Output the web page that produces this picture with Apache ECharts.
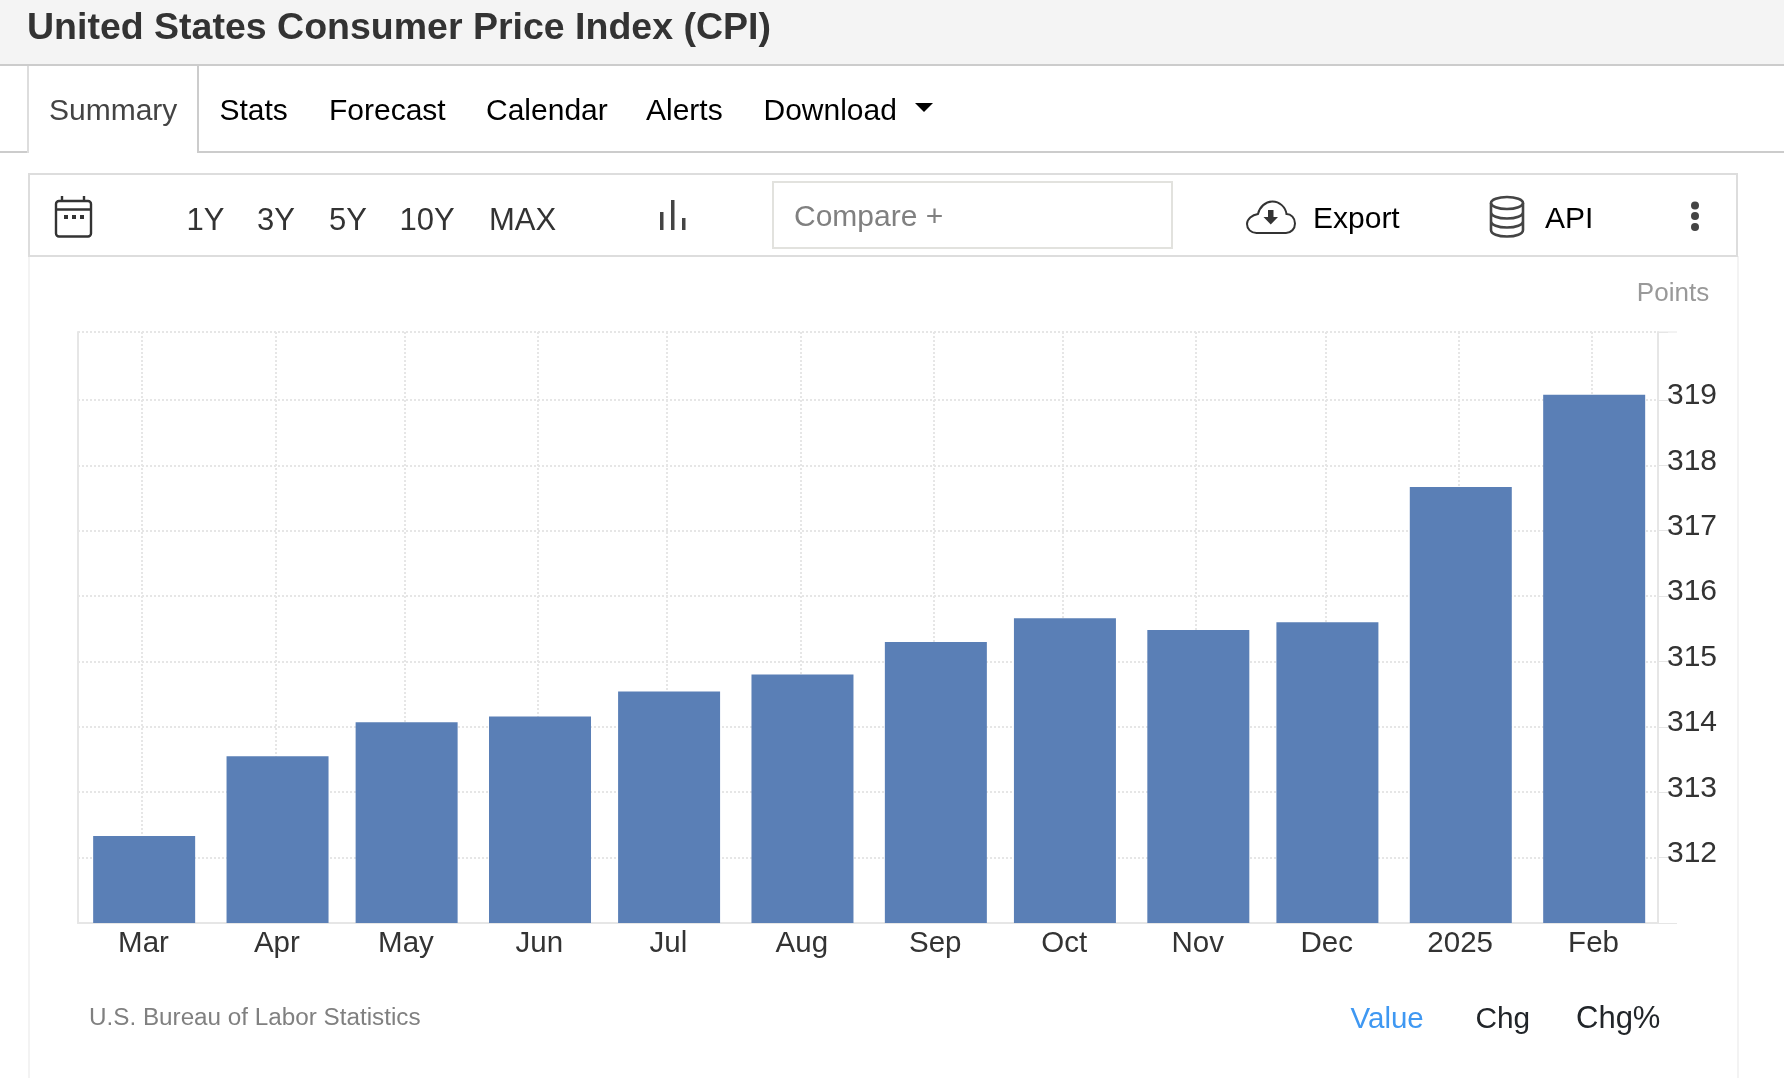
<!DOCTYPE html>
<html>
<head>
<meta charset="utf-8">
<title>United States Consumer Price Index (CPI)</title>
<script src="https://cdn.jsdelivr.net/npm/echarts@6/dist/echarts.min.js"></script>
<style>
html,body{margin:0;padding:0;width:1784px;height:1078px;background:#fff;overflow:hidden;font-family:"Liberation Sans",Arial,sans-serif}
.box{position:absolute;box-sizing:border-box}
.t{position:absolute;line-height:1;white-space:nowrap}
#chart{position:absolute;left:0;top:0;width:1784px;height:1078px}
svg{position:absolute;overflow:visible}
</style>
</head>
<body>
<div class="box" style="left:0;top:0;width:1784px;height:64px;background:#f4f4f4"></div>
<div class="box" style="left:0;top:64px;width:1784px;height:2px;background:#ccc"></div>
<div class="box" style="left:0;top:151px;width:28px;height:2px;background:#ccc"></div>
<div class="box" style="left:198px;top:151px;width:1586px;height:2px;background:#ccc"></div>
<div class="box" style="left:27px;top:66px;width:2px;height:87px;background:#ddd"></div>
<div class="box" style="left:197px;top:66px;width:2px;height:87px;background:#ccc"></div>
<div class="box" style="left:28px;top:256px;width:2px;height:822px;background:#f3f3f3"></div>
<div class="box" style="left:1737px;top:256px;width:2px;height:822px;background:#f3f3f3"></div>
<div class="box" style="left:28px;top:173px;width:1710px;height:84px;border:2px solid #ddd"></div>
<div class="box" style="left:772px;top:181px;width:401px;height:68px;border:2px solid #e2e2de"></div>
<div id="chart"></div>
<svg style="left:0;top:0" width="1784" height="1078">
  <path d="M915 103h18l-9 9z" fill="#000"/>
  <g fill="none" stroke="#333" stroke-width="2.4">
    <rect x="56" y="201" width="35" height="35.5" rx="3"/>
    <path d="M56 209.500h35M62 196v5M84 196v5"/>
  </g>
  <g fill="#333"><rect x="64" y="215" width="4" height="4"/><rect x="72" y="215" width="4" height="4"/><rect x="80" y="215" width="4" height="4"/></g>
  <g fill="#444"><rect x="660" y="212" width="3.500" height="18"/><rect x="671" y="200" width="3.500" height="30"/><rect x="682" y="218" width="3.500" height="12"/></g>
  <path d="M1256 233h30c5 0 9-4 9-9.500s-4-9.500-8.500-9.500c-1-7-7-12.500-14-12.500s-13 5.500-14.500 12.500c-6 1-11 5-11 10s4 9 9.500 9z" fill="none" stroke="#333" stroke-width="2"/>
  <path d="M1268 210h5.500v7h4.500l-7.250 7.500-7.250-7.500h4.500z" fill="#333"/>
  <g fill="none" stroke="#444" stroke-width="2.600">
    <ellipse cx="1507" cy="203" rx="16" ry="6"/>
    <path d="M1491 203v27c0 4 7 6.500 16 6.500s16-2.500 16-6.500v-27M1491 212c0 4 7 6.500 16 6.500s16-2.500 16-6.500M1491 221c0 4 7 6.500 16 6.500s16-2.500 16-6.500"/>
  </g>
  <g fill="#444"><circle cx="1695" cy="205.500" r="4"/><circle cx="1695" cy="216" r="4"/><circle cx="1695" cy="227" r="4"/></g>
</svg>
<script>
// Month starts of the index readings
const months = ['2024-03-01','2024-04-01','2024-05-01','2024-06-01','2024-07-01','2024-08-01','2024-09-01','2024-10-01','2024-11-01','2024-12-01','2025-01-01','2025-02-01'];
const xTickLabels = ['Mar','Apr','May','Jun','Jul','Aug','Sep','Oct','Nov','Dec','2025','Feb'];
const cpiValues = [312.33, 313.55, 314.07, 314.16, 314.54, 314.80, 315.30, 315.66, 315.48, 315.60, 317.67, 319.08];
const yTickValues = [311, 312, 313, 314, 315, 316, 317, 318, 319, 320.04];
const yLabelValues = [312, 313, 314, 315, 316, 317, 318, 319];
const titleText = 'United States Consumer Price Index (CPI)';
const sourceText = 'U.S. Bureau of Labor Statistics';
const unitText = 'Points';
// text, x, baseline, size, colour
const uiText = [
  ['Summary', 49, 120, 30, '#444'], ['Stats', 219.5, 120, 30, '#000'], ['Forecast', 329, 120, 30, '#000'],
  ['Calendar', 486, 120, 30, '#000'], ['Alerts', 646, 120, 30, '#000'], ['Download', 763.5, 120, 30, '#000'],
  ['1Y', 186.5, 230, 31, '#333'], ['3Y', 257, 230, 31, '#333'], ['5Y', 329, 230, 31, '#333'],
  ['10Y', 399.5, 230, 31, '#333'], ['MAX', 489, 230, 31, '#333'],
  ['Compare +', 794, 226, 30, '#808080'], ['Export', 1313, 228, 30, '#000'], ['API', 1545, 228, 30, '#000'],
  ['Value', 1350.5, 1028, 29.5, '#3f98f2'], ['Chg', 1475.5, 1028, 29.8, '#212529'], ['Chg%', 1576, 1028, 31, '#212529']
];
uiText.forEach(([text, x, base, size, color]) => {
  const el = document.createElement('div');
  el.className = 't';
  el.textContent = text;
  el.style.cssText = `left:${x}px;top:${base - 0.8465 * size}px;font-size:${size}px;color:${color}`;
  document.body.appendChild(el);
});
const FONT = '"Liberation Sans", Arial, sans-serif';
const LINE = '#e6e6e6';
const stamp = s => new Date(s).getTime();
const xTicks = months.map(m => stamp(m + 'T00:00:00'));
const chart = echarts.init(document.getElementById('chart'), null, {renderer: 'canvas', width: 1784, height: 1078});
chart.setOption({
  animation: false,
  backgroundColor: 'transparent',
  title: [
    {text: titleText, left: 27, top: 10, padding: 0, textStyle: {fontFamily: FONT, fontSize: 37.5, fontWeight: 'bold', color: '#333'}},
    {text: sourceText, left: 89, top: 1006, padding: 0, textStyle: {fontFamily: FONT, fontSize: 24.25, fontWeight: 'normal', color: '#808080'}}
  ],
  grid: {left: 78, right: 126, top: 332, bottom: 155},
  xAxis: {
    type: 'value',
    containShape: false,
    min: stamp('2024-02-15T03:00:00'),
    max: stamp('2025-02-16T08:00:00'),
    axisLine: {onZero: false, lineStyle: {color: LINE, width: 2}},
    axisTick: {show: false, customValues: xTicks},
    splitLine: {show: true, lineStyle: {color: LINE, width: 2, type: [2, 2]}},
    axisLabel: {
      show: true, margin: 6, color: '#333', fontFamily: FONT, fontSize: 29.5, hideOverlap: false,
      padding: [0, 0, 0, 3],
      customValues: xTicks,
      formatter: v => xTickLabels[xTicks.indexOf(v)] || ''
    }
  },
  yAxis: [
    {
      type: 'value', position: 'right', min: 311, max: 320.04, name: unitText, nameLocation: 'end', nameGap: 25,
      nameTextStyle: {fontFamily: FONT, fontSize: 26, color: '#999', align: 'center', padding: [0, 0, 0, 30]},
      axisLine: {show: true, onZero: false, lineStyle: {color: LINE, width: 2}},
      axisTick: {show: true, length: 10, lineStyle: {color: LINE, width: 1}, customValues: yTickValues},
      splitLine: {show: true, lineStyle: {color: LINE, width: 2, type: [2, 2]}},
      axisLabel: {color: '#333', fontFamily: FONT, fontSize: 30, margin: 9, verticalAlign: 'bottom', lineHeight: 8, customValues: yLabelValues}
    },
    {
      type: 'value', position: 'left', min: 311, max: 320.04,
      axisLine: {show: true, onZero: false, lineStyle: {color: LINE, width: 2}},
      axisTick: {show: false}, axisLabel: {show: false}, splitLine: {show: false}
    }
  ],
  series: [{
    name: 'CPI', type: 'bar', yAxisIndex: 0, barWidth: 102,
    itemStyle: {color: '#5a7fb6'},
    data: months.map((m, i) => [stamp(m + 'T12:00:00'), cpiValues[i]])
  }],
  graphic: [
    {type: 'line', silent: true, shape: {x1: 1658, y1: 332, x2: 1677, y2: 332}, style: {stroke: LINE, lineWidth: 1}},
    {type: 'line', silent: true, shape: {x1: 1658, y1: 923.5, x2: 1677, y2: 923.5}, style: {stroke: LINE, lineWidth: 1}}
  ]
});
</script>
</body>
</html>
